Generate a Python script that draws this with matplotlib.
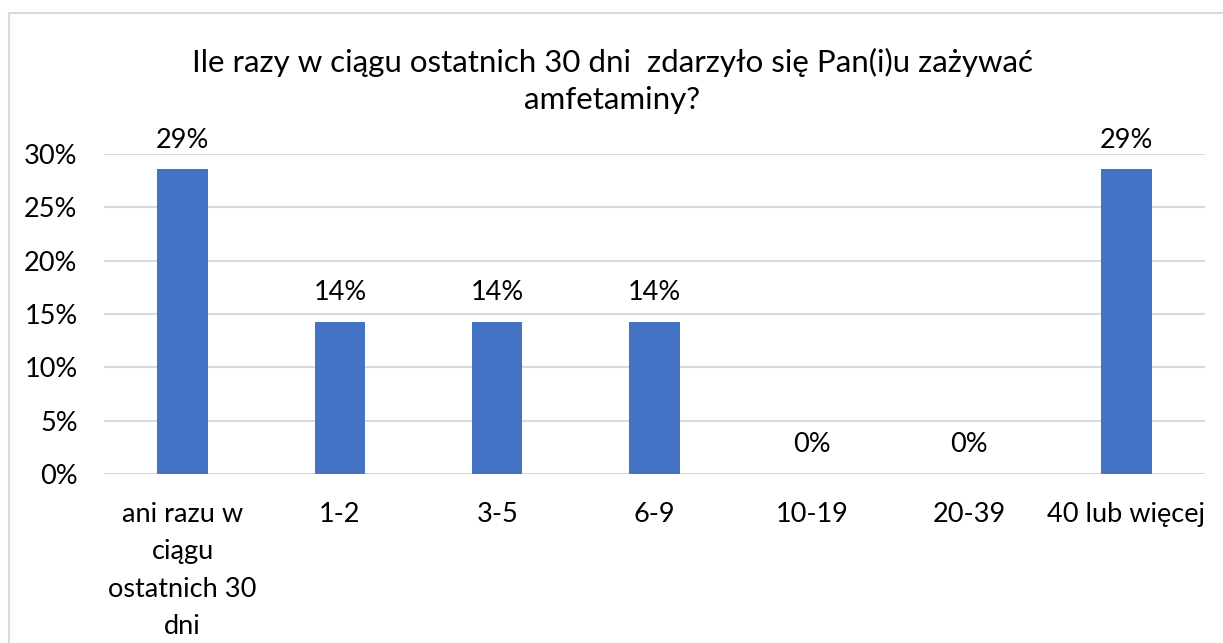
import matplotlib
matplotlib.use("Agg")
import matplotlib.pyplot as plt
from matplotlib.patches import Rectangle

categories = ["ani razu w\nciągu\nostatnich 30\ndni", "1-2", "3-5", "6-9", "10-19", "20-39", "40 lub więcej"]
values = [28.57, 14.29, 14.29, 14.29, 0.0, 0.0, 28.57]
labels = ["29%", "14%", "14%", "14%", "0%", "0%", "29%"]
yticks = [0, 5, 10, 15, 20, 25, 30]
ytick_labels = ["0%", "5%", "10%", "15%", "20%", "25%", "30%"]
title = "Ile razy w ciągu ostatnich 30 dni  zdarzyło się Pan(i)u zażywać\namfetaminy?"

plt.rcParams['font.family'] = ['Lato', 'DejaVu Sans']

W, H = 1223, 643
fig = plt.figure(figsize=(W / 100, H / 100), dpi=100)
fig.patches.append(Rectangle((9 / W, -0.1), 1.2, 1 - 13 / H + 0.1, transform=fig.transFigure,
                             fill=False, edgecolor='#d9d9d9', linewidth=1.5))

ax = fig.add_axes([104 / W, 1 - 474 / H, (1205 - 104) / W, (474 - 154) / H])
x = list(range(len(categories)))
ax.bar(x, values, width=0.32, color='#4472C4', zorder=3)
ax.set_xlim(-0.5, len(categories) - 0.5)
ax.set_ylim(0, 30)
ax.set_yticks(yticks)
ax.set_yticklabels(ytick_labels)
ax.set_xticks(x)
ax.set_xticklabels(categories, linespacing=1.62)
ax.tick_params(axis='y', length=0, pad=19, labelsize=19.5)
ax.tick_params(axis='x', length=0, pad=20, labelsize=19.5)
ax.grid(axis='y', color='#d9d9d9', linewidth=1.5, zorder=0)
for s in ax.spines.values():
    s.set_visible(False)

for xi, v, lab in zip(x, values, labels):
    ax.annotate(lab, (xi, v), xytext=(0, 12), textcoords='offset points',
                ha='center', va='bottom', fontsize=19.5)

fig.text(612 / W, 1 - 81 / H, title, ha='center', va='center', fontsize=22.5, linespacing=1.38)

fig.savefig("out.png", dpi=100)
